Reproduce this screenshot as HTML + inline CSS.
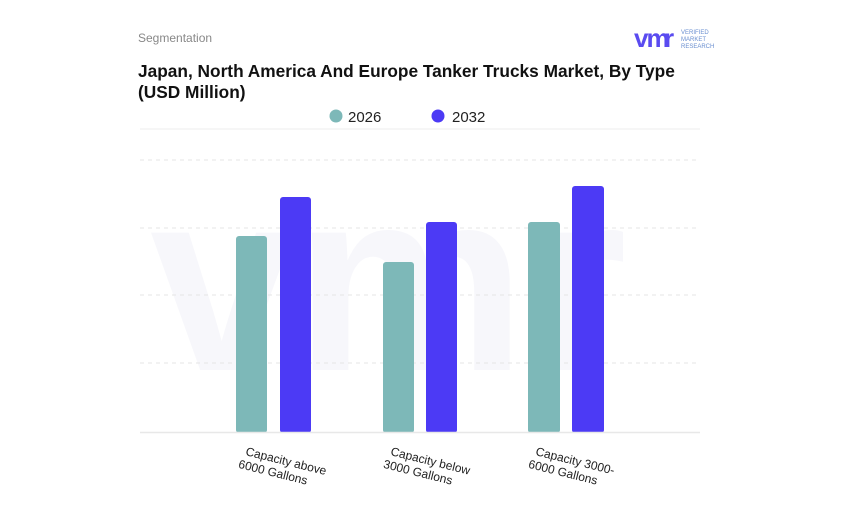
<!DOCTYPE html>
<html><head><meta charset="utf-8"><style>
body{margin:0;background:#fff;}
</style></head><body>
<svg width="844" height="519" xmlns="http://www.w3.org/2000/svg" style="display:block;font-family:'Liberation Sans',Arial,sans-serif">
<rect width="844" height="519" fill="#fff"/>
<text x="138" y="42" font-size="12" fill="#888">Segmentation</text>
<text x="138" y="77" font-size="17.3" font-weight="bold" fill="#111">Japan, North America And Europe Tanker Trucks Market, By Type</text>
<text x="138" y="98" font-size="17.3" font-weight="bold" fill="#111">(USD Million)</text>
<!-- logo -->
<text x="634" y="47" font-size="26" font-weight="bold" fill="#5a4bf0" letter-spacing="-2">vm</text>
<text x="664" y="47" font-size="26" font-weight="bold" fill="#5a4bf0">r</text>
<text x="681" y="34" font-size="6" fill="#6a8fd0">VERIFIED</text>
<text x="681" y="41" font-size="6" fill="#6a8fd0">MARKET</text>
<text x="681" y="48" font-size="6" fill="#6a8fd0">RESEARCH</text>
<!-- legend -->
<circle cx="336" cy="116" r="6.5" fill="#7db8b8"/>
<text x="348" y="122" font-size="15" fill="#222">2026</text>
<circle cx="438" cy="116" r="6.5" fill="#4c3af5"/>
<text x="452" y="122" font-size="15" fill="#222">2032</text>
<line x1="140" y1="129" x2="700" y2="129" stroke="#eee"/>
<!-- watermark -->
<text x="150" y="370" font-size="260" font-weight="bold" fill="#f7f7fb">vmr</text>
<!-- grid -->
<g stroke="#e4e4e4" stroke-dasharray="4,4">
<line x1="140" y1="160" x2="700" y2="160"/>
<line x1="140" y1="228" x2="700" y2="228"/>
<line x1="140" y1="295" x2="700" y2="295"/>
<line x1="140" y1="363" x2="700" y2="363"/>
</g>
<!-- bars -->
<g>
<rect x="236" y="236" width="31" height="197" rx="3" fill="#7db8b8"/>
<rect x="280" y="197" width="31" height="236" rx="3" fill="#4c3af5"/>
<rect x="383" y="262" width="31" height="171" rx="3" fill="#7db8b8"/>
<rect x="426" y="222" width="31" height="211" rx="3" fill="#4c3af5"/>
<rect x="528" y="222" width="32" height="211" rx="3" fill="#7db8b8"/>
<rect x="572" y="186" width="32" height="247" rx="3" fill="#4c3af5"/>
</g>
<line x1="140" y1="432.5" x2="700" y2="432.5" stroke="#e8e8e8" stroke-width="1.5"/>
<!-- labels -->
<g font-size="12" fill="#222">
<text transform="translate(245,455) rotate(14)">Capacity above<tspan x="-4" dy="14">6000 Gallons</tspan></text>
<text transform="translate(390,455) rotate(14)">Capacity below<tspan x="-4" dy="14">3000 Gallons</tspan></text>
<text transform="translate(535,455) rotate(14)">Capacity 3000-<tspan x="-4" dy="14">6000 Gallons</tspan></text>
</g>
</svg>
</body></html>
